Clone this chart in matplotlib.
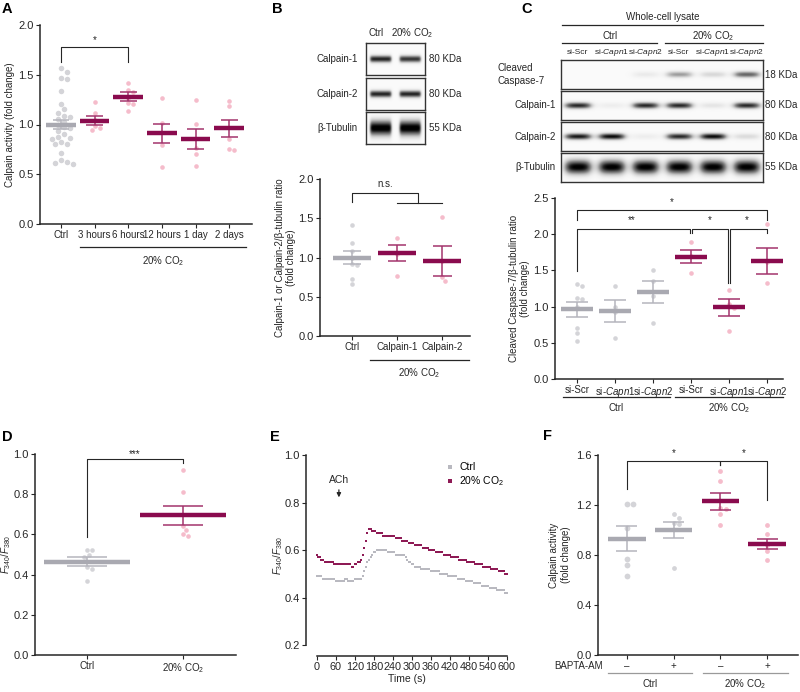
import numpy as np
import matplotlib
matplotlib.use("Agg")
import matplotlib.pyplot as plt

plt.rcParams['font.family'] = ['Liberation Sans', 'DejaVu Sans']
plt.rcParams['mathtext.fontset'] = 'custom'
plt.rcParams['mathtext.rm'] = 'Liberation Sans'
plt.rcParams['mathtext.it'] = 'Liberation Sans:italic'
plt.rcParams['font.size'] = 7

W, H = 800, 692
NEGRO = '#262626'
GRIS_PT = '#d4d4d8'
GRIS_MED = '#a9a9b1'
GRIS_ERR = '#b5b5bd'
MAG = '#8a0b4e'
MAG_ERR = '#a3346c'
ROSA = '#f5bccb'
CO2 = '20% CO$_2$'

# ---- A: actividad de calpaina en el tiempo
a_cats = ["Ctrl", "3 hours", "6 hours", "12 hours", "1 day", "2 days"]
a_puntos = [
    [1.57, 1.53, 1.47, 1.46, 1.34, 1.21, 1.16, 1.12, 1.09, 1.08, 1.06, 1.03, 1.00, 0.97,
     0.96, 0.93, 0.90, 0.87, 0.86, 0.85, 0.82, 0.80, 0.80, 0.71, 0.64, 0.62, 0.61, 0.60],
    [1.23, 1.12, 1.05, 0.98, 0.96, 0.94],
    [1.42, 1.35, 1.33, 1.27, 1.22, 1.21, 1.14],
    [1.27, 1.02, 0.79, 0.57],
    [1.25, 1.01, 0.76, 0.70, 0.58],
    [1.24, 1.19, 0.85, 0.75, 0.74],
]
a_media = [1.00, 1.04, 1.28, 0.91, 0.85, 0.96]
a_sem = [0.05, 0.045, 0.045, 0.10, 0.10, 0.09]

# ---- B: western blot + cuantificacion
b_blot_filas = ["Calpain-1", "Calpain-2", "β-Tubulin"]
b_blot_kda = ["80 KDa", "80 KDa", "55 KDa"]
b_blot_int = [[0.85, 0.80], [0.85, 0.85], [1.0, 1.0]]
b_cats = ["Ctrl", "Calpain-1", "Calpain-2"]
b_puntos = [
    [1.42, 1.19, 1.08, 0.99, 0.92, 0.91, 0.72, 0.66],
    [1.25, 1.05, 0.76],
    [1.51, 0.95, 0.75, 0.70],
]
b_media = [1.00, 1.06, 0.96]
b_sem = [0.08, 0.105, 0.19]

# ---- C: western blot siRNA + caspasa-7
c_carriles = ["si-Scr", "si-$\\it{Capn1}$", "si-$\\it{Capn2}$"] * 2
c_blot_filas = ["Cleaved\nCaspase-7", "Calpain-1", "Calpain-2", "β-Tubulin"]
c_blot_kda = ["18 KDa", "80 KDa", "80 KDa", "55 KDa"]
c_blot_int = [
    [0.0, 0.0, 0.12, 0.45, 0.22, 0.65],
    [0.85, 0.10, 0.85, 0.85, 0.15, 0.85],
    [0.90, 0.95, 0.10, 0.85, 0.95, 0.20],
    [1.0, 1.0, 1.0, 1.0, 1.0, 1.0],
]
c_puntos = [
    [1.31, 1.28, 1.12, 1.11, 1.00, 0.70, 0.63, 0.52],
    [1.29, 1.00, 0.92, 0.57],
    [1.50, 1.36, 1.15, 0.77],
    [1.89, 1.70, 1.47],
    [1.23, 1.03, 0.98, 0.66],
    [2.14, 1.62, 1.32],
]
c_media = [0.96, 0.94, 1.20, 1.69, 0.99, 1.63]
c_sem = [0.105, 0.15, 0.155, 0.09, 0.115, 0.175]

# ---- D: F340/F380
d_cats = ["Ctrl", CO2]
d_puntos = [
    [0.52, 0.52, 0.50, 0.49, 0.44, 0.43, 0.37],
    [0.92, 0.81, 0.64, 0.62, 0.60, 0.59],
]
d_media = [0.465, 0.695]
d_sem = [0.022, 0.047]

# ---- E: curso temporal (cada 5 s)
e_t = np.arange(0, 601, 5)
e_ctrl = [
    0.49, 0.49, 0.49, 0.49, 0.48, 0.48, 0.48, 0.48, 0.48, 0.48,
    0.48, 0.48, 0.47, 0.47, 0.47, 0.47, 0.47, 0.47, 0.48, 0.48,
    0.47, 0.47, 0.47, 0.47, 0.48, 0.48, 0.48, 0.48, 0.48, 0.49,
    0.51, 0.53, 0.55, 0.56, 0.57, 0.58, 0.59, 0.59, 0.60, 0.60,
    0.60, 0.60, 0.60, 0.60, 0.60, 0.59, 0.59, 0.59, 0.59, 0.59,
    0.58, 0.58, 0.58, 0.58, 0.58, 0.58, 0.57, 0.56, 0.55, 0.55,
    0.54, 0.54, 0.53, 0.53, 0.53, 0.53, 0.52, 0.52, 0.52, 0.52,
    0.52, 0.52, 0.51, 0.51, 0.51, 0.51, 0.51, 0.51, 0.50, 0.50,
    0.50, 0.50, 0.50, 0.49, 0.49, 0.49, 0.49, 0.49, 0.49, 0.48,
    0.48, 0.48, 0.48, 0.48, 0.47, 0.47, 0.47, 0.47, 0.47, 0.46,
    0.46, 0.46, 0.46, 0.46, 0.45, 0.45, 0.45, 0.45, 0.45, 0.44,
    0.44, 0.44, 0.44, 0.44, 0.43, 0.43, 0.43, 0.43, 0.43, 0.42,
    0.42]
e_co2 = [
    0.58, 0.57, 0.57, 0.56, 0.56, 0.55, 0.55, 0.55, 0.55, 0.55,
    0.55, 0.54, 0.54, 0.54, 0.54, 0.54, 0.54, 0.54, 0.54, 0.54,
    0.54, 0.54, 0.53, 0.53, 0.54, 0.54, 0.55, 0.55, 0.56, 0.58,
    0.61, 0.64, 0.67, 0.69, 0.69, 0.68, 0.68, 0.68, 0.67, 0.67,
    0.67, 0.67, 0.66, 0.66, 0.66, 0.66, 0.66, 0.66, 0.66, 0.66,
    0.65, 0.65, 0.65, 0.65, 0.64, 0.64, 0.64, 0.64, 0.63, 0.63,
    0.63, 0.63, 0.62, 0.62, 0.62, 0.62, 0.62, 0.61, 0.61, 0.61,
    0.61, 0.60, 0.60, 0.60, 0.60, 0.59, 0.59, 0.59, 0.59, 0.59,
    0.58, 0.58, 0.58, 0.58, 0.58, 0.57, 0.57, 0.57, 0.57, 0.57,
    0.56, 0.56, 0.56, 0.56, 0.56, 0.55, 0.55, 0.55, 0.55, 0.55,
    0.54, 0.54, 0.54, 0.54, 0.54, 0.53, 0.53, 0.53, 0.53, 0.53,
    0.52, 0.52, 0.52, 0.52, 0.52, 0.51, 0.51, 0.51, 0.51, 0.50,
    0.50]
e_ach_t = 70

# ---- F: BAPTA-AM
f_cats = ["–", "+", "–", "+"]
f_puntos = [
    [1.21, 1.21, 1.02, 0.77, 0.72, 0.63],
    [1.13, 1.10, 1.06, 1.05, 0.70],
    [1.47, 1.39, 1.18, 1.17, 1.13, 1.04],
    [1.04, 0.97, 0.88, 0.83, 0.76],
]
f_media = [0.93, 1.00, 1.23, 0.89]
f_sem = [0.10, 0.065, 0.07, 0.04]


fig = plt.figure(figsize=(W / 100, H / 100), dpi=100)


def caja(izq, arr, der, aba):
    return [izq / W, 1 - aba / H, (der - izq) / W, (aba - arr) / H]


def estilo(ax):
    for s in ['top', 'right']:
        ax.spines[s].set_visible(False)
    for s in ['left', 'bottom']:
        ax.spines[s].set_linewidth(1.1)
        ax.spines[s].set_color(NEGRO)
    ax.tick_params(length=3, width=0.8, color=NEGRO, labelsize=7, pad=1.5, labelcolor=NEGRO)
    ax.tick_params(axis='y', labelsize=8)


def escala(ax):
    pos = ax.get_position()
    x0, x1 = ax.get_xlim()
    y0, y1 = ax.get_ylim()
    return pos.width * W / (x1 - x0), pos.height * H / (y1 - y0)


def enjambre(vals, d, xpu, ypu):
    # reparte los puntos a lo ancho para que no se pisen
    vals = np.asarray(vals, float)
    xs = np.zeros(len(vals))
    puestos = []
    for i in np.argsort(-vals):
        ypx = vals[i] * ypu
        for k in [0, 1, -1, 2, -2, 3, -3, 4, -4, 5, -5]:
            xpx = k * d * 0.55
            if all(np.hypot(xpx - cx, ypx - cy) >= d for cx, cy in puestos):
                break
        puestos.append((xpx, ypx))
        xs[i] = xpx / xpu
    return xs


def grupo(ax, x, pts, media, sem, magenta, ancho, tapa, d=5.0):
    xpu, ypu = escala(ax)
    off = enjambre(pts, d, xpu, ypu)
    s = (d * 0.72) ** 2
    ax.scatter(x + off, pts, s=s, color=ROSA if magenta else GRIS_PT, lw=0, zorder=2, clip_on=False)
    ce = MAG_ERR if magenta else GRIS_ERR
    ax.vlines(x, media - sem, media + sem, color=ce, lw=1.1, zorder=3)
    ax.hlines([media - sem, media + sem], x - tapa / 2, x + tapa / 2, color=ce, lw=1.1, zorder=3)
    ax.hlines(media, x - ancho / 2, x + ancho / 2, color=MAG if magenta else GRIS_MED, lw=3.2, zorder=4)


def corchete(ax, x1, x2, top, y1, y2, txt, tx, ty):
    ax.plot([x1, x1, x2, x2], [y1, top, top, y2], color=NEGRO, lw=0.8, clip_on=False, zorder=5)
    if txt:
        ax.text(tx, ty, txt, ha='center', va='center', fontsize=7, color=NEGRO)


def grupo_linea(ax, xa, xb, yl, yt, txt, color=NEGRO):
    tr = ax.get_xaxis_transform()
    ax.plot([xa, xb], [yl, yl], color=color, lw=0.9, transform=tr, clip_on=False)
    ax.text((xa + xb) / 2, yt, txt, transform=tr, ha='center', va='center', fontsize=7, color=NEGRO)


def blot(rect, intens, grosor):
    ax = fig.add_axes(caja(*rect))
    nx, ny = 400, 60
    x = np.linspace(0, 1, nx)
    y = np.linspace(0, 1, ny)
    img = np.full((ny, nx), 0.04)
    n = len(intens)
    anch = 0.72 / n
    for i, v in enumerate(intens):
        c = (i + 0.5) / n
        hx = 1 / (1 + np.exp(-(x - (c - anch / 2)) / 0.012)) / (1 + np.exp((x - (c + anch / 2)) / 0.012))
        hy = np.exp(-((y - 0.5) / grosor) ** 2)
        img += v * np.outer(hy, hx)
    ax.imshow(np.clip(img, 0, 1), cmap='Greys', vmin=0, vmax=1, aspect='auto',
              interpolation='bilinear', extent=[0, 1, 0, 1])
    ax.set_xticks([])
    ax.set_yticks([])
    for s in ax.spines.values():
        s.set_linewidth(1.0)
        s.set_color('#333333')
    return ax


def ylab(ax, txt, xf):
    ax.set_ylabel(txt, fontsize=7, color=NEGRO, va='center', ha='center')
    ax.yaxis.set_label_coords(xf, 0.5)


# ================= A
axA = fig.add_axes(caja(40, 25, 252, 224))
estilo(axA)
axA.set_xlim(-0.625, 5.68)
axA.set_ylim(0, 2.0)
axA.set_yticks(np.arange(0, 2.01, 0.5))
axA.set_yticklabels([f"{v:.1f}" for v in np.arange(0, 2.01, 0.5)])
axA.set_xticks(range(len(a_cats)))
axA.set_xticklabels(a_cats)
for i in range(len(a_cats)):
    grupo(axA, i, a_puntos[i], a_media[i], a_sem[i], i > 0, 0.88, 0.5, d=5.5 if i == 0 else 4.6)
corchete(axA, 0, 2, 1.78, 1.63, 1.63, "*", 1, 1.85)
grupo_linea(axA, 0.57, 5.5, -0.116, -0.186, CO2)
ylab(axA, "Calpain activity (fold change)", -0.14)

# ================= B
for i, (fila, kda) in enumerate(zip(b_blot_filas, b_blot_kda)):
    arr = [43, 78, 112][i]
    blot((366, arr, 425, arr + 32), b_blot_int[i], 0.24 if i == 2 else 0.11)

axB = fig.add_axes(caja(320, 179, 470, 336))
estilo(axB)
axB.set_xlim(-0.71, 2.62)
axB.set_ylim(0, 2.0)
axB.set_yticks(np.arange(0, 2.01, 0.5))
axB.set_yticklabels([f"{v:.1f}" for v in np.arange(0, 2.01, 0.5)])
axB.set_xticks(range(3))
axB.set_xticklabels(b_cats)
for i in range(3):
    grupo(axB, i, b_puntos[i], b_media[i], b_sem[i], i > 0, 0.85, 0.42, d=4.6)
corchete(axB, 0, 1.47, 1.82, 1.71, 1.70, "n.s.", 0.73, 1.93)
axB.plot([1, 2], [1.70, 1.70], color=NEGRO, lw=0.8, clip_on=False)
grupo_linea(axB, 0.4, 2.6, -0.15, -0.235, CO2)
ylab(axB, "Calpain-1 or Calpain-2/β-tubulin ratio\n(fold change)", -0.23)

# ================= C
for i in range(4):
    arr = [60, 91, 122, 153][i]
    blot((561, arr, 763, arr + 29), c_blot_int[i], 0.24 if i == 3 else 0.11)

axC = fig.add_axes(caja(555, 198, 783, 379))
estilo(axC)
axC.set_xlim(-0.58, 5.42)
axC.set_ylim(0, 2.5)
axC.set_yticks(np.arange(0, 2.51, 0.5))
axC.set_yticklabels([f"{v:.1f}" for v in np.arange(0, 2.51, 0.5)])
axC.set_xticks(range(6))
axC.set_xticklabels(c_carriles)
for i in range(6):
    grupo(axC, i, c_puntos[i], c_media[i], c_sem[i], i > 2, 0.85, 0.57, d=4.6)
corchete(axC, 0, 5, 2.34, 2.20, 2.20, "*", 2.5, 2.45)
corchete(axC, 0, 2.97, 2.07, 1.49, 2.02, "**", 1.45, 2.19)
corchete(axC, 3.03, 3.965, 2.07, 2.02, 1.33, "*", 3.49, 2.19)
corchete(axC, 4.035, 5, 2.07, 1.33, 2.02, "*", 4.47, 2.19)
grupo_linea(axC, -0.37, 2.45, -0.10, -0.16, "Ctrl")
grupo_linea(axC, 2.58, 5.42, -0.10, -0.16, CO2)
ylab(axC, "Cleaved Caspase-7/β-tubulin ratio\n(fold change)", -0.155)

# ================= D
axD = fig.add_axes(caja(35, 454, 236, 655))
estilo(axD)
axD.set_xlim(-0.54, 1.55)
axD.set_ylim(0, 1.0)
axD.set_yticks(np.arange(0, 1.01, 0.2))
axD.set_yticklabels([f"{v:.1f}" for v in np.arange(0, 1.01, 0.2)])
axD.set_xticks(range(2))
axD.set_xticklabels(d_cats)
for i in range(2):
    grupo(axD, i, d_puntos[i], d_media[i], d_sem[i], i > 0, 0.9, 0.42, d=4.6)
corchete(axD, 0, 1, 0.975, 0.585, 0.955, "***", 0.5, 1.0)
ylab(axD, "$\\it{F}_{\\rm 340}/\\it{F}_{\\rm 380}$", -0.145)

# ================= E
axE = fig.add_axes(caja(306, 455, 507, 656))
estilo(axE)
axE.tick_params(axis='x', labelsize=7.8)
axE.set_xlim(-33.7, 600)
axE.set_ylim(0.154, 1.0)
axE.spines['left'].set_bounds(0.2, 1.0)
axE.spines['bottom'].set_bounds(0, 600)
axE.set_yticks(np.arange(0.2, 1.01, 0.2))
axE.set_yticklabels([f"{v:.1f}" for v in np.arange(0.2, 1.01, 0.2)])
axE.set_xticks(np.arange(0, 601, 60))
axE.plot(e_t, e_ctrl, ls='none', marker='s', ms=1.8, mew=0, color='#b9b9c0', label="Ctrl")
axE.plot(e_t, e_co2, ls='none', marker='s', ms=1.8, mew=0, color='#8e1a55', label=CO2)
axE.set_xlabel("Time (s)", fontsize=7.5, color=NEGRO, labelpad=1)
axE.annotate("", xy=(e_ach_t, 0.81), xytext=(e_ach_t, 0.865),
             arrowprops=dict(arrowstyle='-|>', color=NEGRO, lw=0.9, mutation_scale=6))
axE.text(e_ach_t, 0.895, "ACh", ha='center', va='center', fontsize=7.5, color=NEGRO)
axE.legend(loc='upper left', bbox_to_anchor=(0.68, 0.985), frameon=False, fontsize=7.5,
           handlelength=0.6, handletextpad=0.6, markerscale=1.5, labelspacing=0.2, borderaxespad=0)
ylab(axE, "$\\it{F}_{\\rm 340}/\\it{F}_{\\rm 380}$", -0.14)

# ================= F
axF = fig.add_axes(caja(598, 455, 798, 655))
estilo(axF)
axF.set_xlim(-0.62, 3.66)
axF.set_ylim(0, 1.6)
axF.set_yticks(np.arange(0, 1.61, 0.4))
axF.set_yticklabels([f"{v:.1f}" for v in np.arange(0, 1.61, 0.4)])
axF.set_xticks(range(4))
axF.set_xticklabels(f_cats)
for i in range(4):
    grupo(axF, i, f_puntos[i], f_media[i], f_sem[i], i > 1, 0.8, 0.45, d=5.8 if i == 0 else 4.8)
corchete(axF, 0, 2, 1.552, 1.325, 1.52, "*", 1, 1.615)
corchete(axF, 2, 3, 1.552, 1.52, 1.24, "*", 2.5, 1.615)
grupo_linea(axF, -0.4, 1.4, -0.09, -0.145, "Ctrl", color='#9a9a9a')
grupo_linea(axF, 1.63, 3.45, -0.09, -0.145, CO2, color='#9a9a9a')
ylab(axF, "Calpain activity\n(fold change)", -0.19)

# ================= textos sueltos (coordenadas de pixel)
ov = fig.add_axes([0, 0, 1, 1])
ov.set_xlim(0, W)
ov.set_ylim(H, 0)
ov.axis('off')
ov.patch.set_alpha(0)

for letra, (lx, ly) in zip("ABCDEF", [(7, 9), (277, 9), (527, 9), (7, 437), (275, 437), (547, 436)]):
    ov.text(lx, ly, letra, fontsize=10.5, fontweight='bold', ha='center', va='center', color='black')

# B blot
ov.text(376, 33, "Ctrl", ha='center', va='center', fontsize=7, color=NEGRO)
ov.text(412, 33, CO2, ha='center', va='center', fontsize=7, color=NEGRO)
for i, (fila, kda) in enumerate(zip(b_blot_filas, b_blot_kda)):
    yc = [59, 94, 128][i]
    ov.text(358, yc, fila, ha='right', va='center', fontsize=7, color=NEGRO)
    ov.text(429, yc, kda, ha='left', va='center', fontsize=7, color=NEGRO)

# C blot
ov.text(663, 17, "Whole-cell lysate", ha='center', va='center', fontsize=7, color=NEGRO)
ov.plot([562, 763], [25, 25], color=NEGRO, lw=0.9)
ov.text(610, 36, "Ctrl", ha='center', va='center', fontsize=7, color=NEGRO)
ov.plot([562, 657], [43, 43], color=NEGRO, lw=0.9)
ov.text(713, 36, CO2, ha='center', va='center', fontsize=7, color=NEGRO)
ov.plot([665, 763], [43, 43], color=NEGRO, lw=0.9)
for i, carril in enumerate(c_carriles):
    ov.text(561 + 202 * (i + 0.5) / 6, 52, carril, ha='center', va='center', fontsize=6, color=NEGRO)
for i, (fila, kda) in enumerate(zip(c_blot_filas, c_blot_kda)):
    yc = [74.5, 105.5, 136.5, 167.5][i]
    if i == 0:
        ov.text(498, yc, fila, ha='left', va='center', fontsize=7, color=NEGRO, linespacing=1.3)
    else:
        ov.text(556, yc, fila, ha='right', va='center', fontsize=7, color=NEGRO)
    ov.text(765, yc, kda, ha='left', va='center', fontsize=7, color=NEGRO)

ov.text(603, 666, "BAPTA-AM", ha='right', va='center', fontsize=7, color=NEGRO)

fig.savefig("out.png", dpi=100)
